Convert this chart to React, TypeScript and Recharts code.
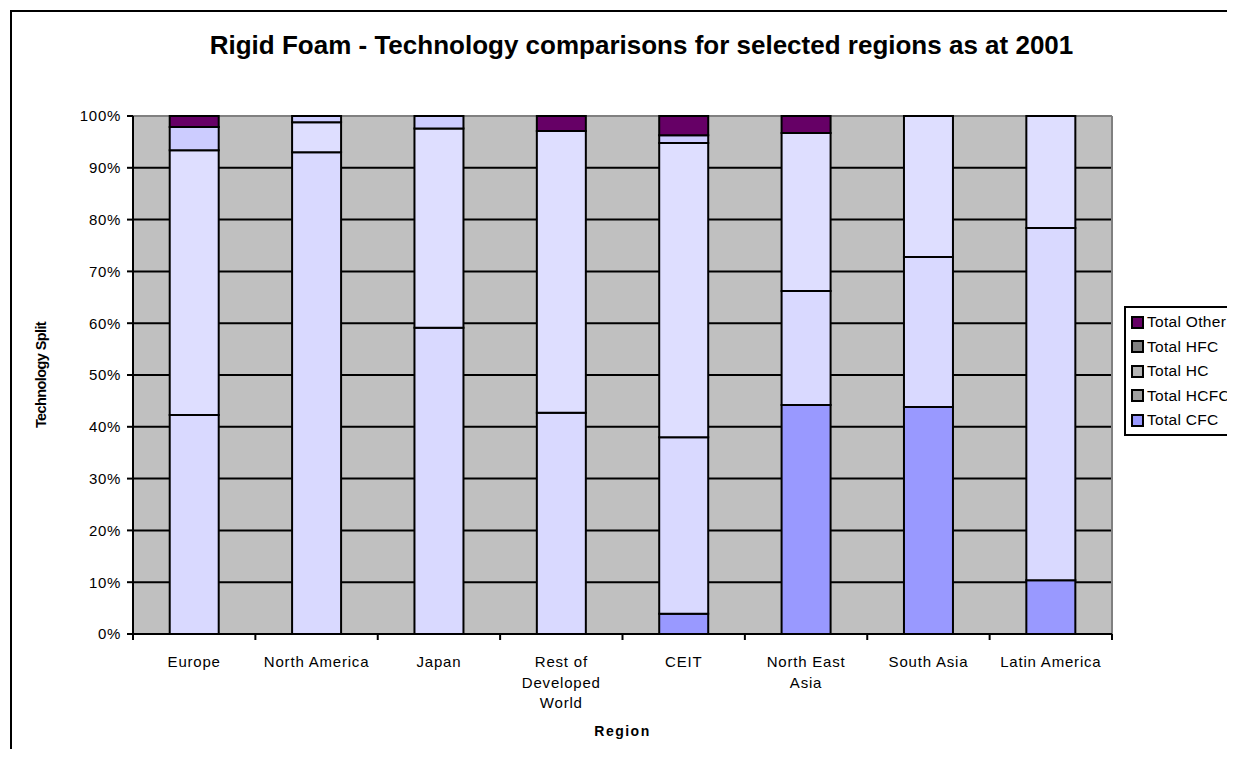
import React from "react";
import { BarChart, Bar, XAxis, YAxis, CartesianGrid, Legend } from "recharts";

// regions and their tick-label lines (as wrapped in the original)
const regions = [
  "Europe",
  "North America",
  "Japan",
  "Rest of Developed World",
  "CEIT",
  "North East Asia",
  "South Asia",
  "Latin America",
];
const regionLabelLines = [
  ["Europe"],
  ["North America"],
  ["Japan"],
  ["Rest of", "Developed", "World"],
  ["CEIT"],
  ["North East", "Asia"],
  ["South Asia"],
  ["Latin America"],
];

// share of each technology, % of the region total
const totalCFC = [0, 0, 0, 0, 3.9, 44.2, 43.8, 10.4];
const totalHCFC = [42.3, 93.0, 59.1, 42.7, 34.1, 22.0, 29.0, 68.0];
const totalHC = [51.1, 5.8, 38.5, 54.4, 56.8, 30.5, 27.2, 21.6];
const totalHFC = [4.5, 1.2, 2.4, 0, 1.5, 0, 0, 0];
const totalOther = [2.1, 0, 0, 2.9, 3.7, 3.3, 0, 0];

const data = regions.map((region, i) => ({
  region,
  cfc: totalCFC[i],
  hcfc: totalHCFC[i],
  hc: totalHC[i],
  hfc: totalHFC[i],
  other: totalOther[i],
}));

// bottom to top of the stack
const series = [
  { key: "cfc", name: "Total CFC", fill: "#9999FF", swatch: "#9999FF" },
  { key: "hcfc", name: "Total HCFC", fill: "#D9D9FF", swatch: "#A0A0A0" },
  { key: "hc", name: "Total HC", fill: "#DEDEFF", swatch: "#B4B4B4" },
  { key: "hfc", name: "Total HFC", fill: "#CCCCFF", swatch: "#808080" },
  { key: "other", name: "Total Other", fill: "#660066", swatch: "#660066" },
];

const FONT = '"Liberation Sans", Arial, Helvetica, sans-serif';

function RegionTick(props: any) {
  const { x, y, payload } = props;
  const half = payload?.offset ?? 0;
  const idx = regions.indexOf(payload.value);
  const lines = regionLabelLines[idx] ?? [payload.value];
  const isLast = idx === regions.length - 1;
  return (
    <g>
      <line x1={x - half} y1={y} x2={x - half} y2={y + 6} stroke="#000" strokeWidth={2} />
      {isLast && <line x1={x + half} y1={y} x2={x + half} y2={y + 6} stroke="#000" strokeWidth={2} />}
      <text x={x} y={y + 33} textAnchor="middle" fontSize={15} letterSpacing={0.8} fill="#000" fontFamily={FONT}>
        {lines.map((l, i) => (
          <tspan key={i} x={x} dy={i === 0 ? 0 : 20.5}>
            {l}
          </tspan>
        ))}
      </text>
    </g>
  );
}

function LegendBox() {
  return (
    <div
      style={{
        border: "2px solid #000",
        background: "#fff",
        padding: "2px 0 1px 5px",
        width: 118,
        boxSizing: "border-box",
        fontFamily: FONT,
        fontSize: 15.5,
        letterSpacing: 0.3,
        color: "#000",
      }}
    >
      {[...series].reverse().map((s) => (
        <div key={s.key} style={{ display: "flex", alignItems: "center", height: 24.5, whiteSpace: "nowrap" }}>
          <span
            style={{
              display: "inline-block",
              width: 13,
              height: 13,
              boxSizing: "border-box",
              border: "2px solid #000",
              background: s.swatch,
              marginRight: 3,
            }}
          />
          {s.name}
        </div>
      ))}
    </div>
  );
}

export default function App() {
  return (
    <div
      style={{
        position: "relative",
        width: 1235,
        height: 757,
        margin: -8,
        overflow: "hidden",
        background: "#fff",
        fontFamily: FONT,
      }}
    >
      <div
        style={{
          position: "absolute",
          left: 10,
          top: 10,
          width: 1300,
          height: 800,
          border: "2px solid #000",
          boxSizing: "border-box",
        }}
      />
      <div
        style={{
          position: "absolute",
          left: 0,
          top: 32,
          width: 1283,
          textAlign: "center",
          fontSize: 26,
          lineHeight: "26px",
          fontWeight: "bold",
          color: "#000",
        }}
      >
        Rigid Foam - Technology comparisons for selected regions as at 2001
      </div>
      <div style={{ position: "absolute", left: 0, top: 0 }}>
        <BarChart
          width={1235}
          height={757}
          data={data}
          stackOffset="expand"
          barCategoryGap="30%"
          margin={{ top: 116, right: 123, bottom: 0, left: 0 }}
        >
          <CartesianGrid vertical={false} stroke="#000" strokeWidth={2} fill="#C0C0C0" fillOpacity={1} />
          <CartesianGrid
            horizontalCoordinatesGenerator={({ offset }: any) => [offset.top]}
            verticalCoordinatesGenerator={({ offset }: any) => [offset.left + offset.width]}
            stroke="#808080"
            strokeWidth={2}
          />
          <XAxis
            dataKey="region"
            height={123}
            tickLine={false}
            tickSize={0}
            tickMargin={0}
            interval={0}
            axisLine={{ stroke: "#000", strokeWidth: 2 }}
            tick={<RegionTick />}
            label={{
              value: "Region",
              position: "insideBottom",
              offset: 21,
              fill: "#000",
              fontSize: 14,
              fontWeight: "bold",
              letterSpacing: 1.5,
              fontFamily: FONT,
            }}
          />
          <YAxis
            width={133}
            domain={[0, 1]}
            tickCount={11}
            tickSize={6}
            tickMargin={6}
            axisLine={{ stroke: "#000", strokeWidth: 2 }}
            tickLine={{ stroke: "#000", strokeWidth: 2 }}
            tick={{ fill: "#000", fontSize: 15, letterSpacing: 0.7, fontFamily: FONT }}
            tickFormatter={(v: number) => `${Math.round(v * 100)}%`}
            label={{
              value: "Technology Split",
              angle: -90,
              position: "insideLeft",
              offset: 41,
              fill: "#000",
              fontSize: 14.5,
              fontWeight: "bold",
              letterSpacing: -0.6,
              fontFamily: FONT,
              style: { textAnchor: "middle" },
            }}
          />
          <Legend
            layout="horizontal"
            verticalAlign="middle"
            align="center"
            wrapperStyle={{ position: "absolute", left: 1124, top: 306, width: "auto", height: "auto" }}
            content={() => <LegendBox />}
          />
          {series.map((s) => (
            <Bar
              key={s.key}
              dataKey={s.key}
              name={s.name}
              stackId="tech"
              fill={s.fill}
              stroke="#000"
              strokeWidth={2}
              isAnimationActive={false}
            />
          ))}
        </BarChart>
      </div>
    </div>
  );
}
